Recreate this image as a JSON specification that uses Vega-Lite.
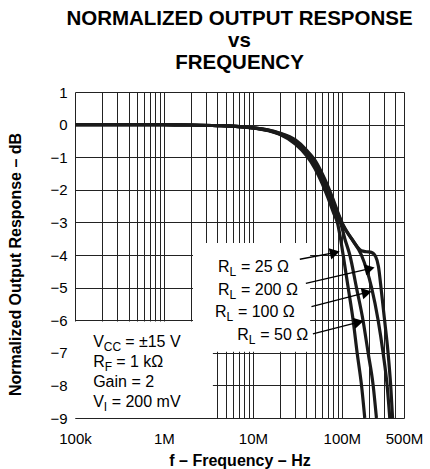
{
  "$schema": "https://vega.github.io/schema/vega-lite/v6.json",
  "width": 329,
  "height": 326,
  "autosize": {"type": "none"},
  "padding": {"left": 75, "top": 92, "right": 26, "bottom": 51},
  "background": "white",
  "config": {
    "font": "Liberation Sans",
    "view": {"stroke": null},
    "axis": {"labelFont": "Liberation Sans", "titleFont": "Liberation Sans", "labelColor": "black", "titleColor": "black"}
  },
  "title": {
    "text": ["NORMALIZED OUTPUT RESPONSE", "vs", "FREQUENCY"],
    "fontSize": 20.5,
    "fontWeight": "bold",
    "lineHeight": 22,
    "anchor": "middle",
    "offset": 12,
    "color": "black",
    "font": "Liberation Sans"
  },
  "datasets": {
    "curves": [
      {"rl": "25", "f": 100000, "db": 0}, {"rl": "25", "f": 300000, "db": 0}, {"rl": "25", "f": 1000000, "db": -0.005}, {"rl": "25", "f": 2000000, "db": -0.012}, {"rl": "25", "f": 4000000, "db": -0.03}, {"rl": "25", "f": 7000000, "db": -0.06}, {"rl": "25", "f": 10000000, "db": -0.1}, {"rl": "25", "f": 15000000, "db": -0.19}, {"rl": "25", "f": 20000000, "db": -0.3},
      {"rl": "25", "f": 30000000, "db": -0.6}, {"rl": "25", "f": 40000000, "db": -0.95}, {"rl": "25", "f": 50000000, "db": -1.35}, {"rl": "25", "f": 60000000, "db": -1.8}, {"rl": "25", "f": 70000000, "db": -2.25}, {"rl": "25", "f": 80000000, "db": -2.68}, {"rl": "25", "f": 90000000, "db": -3.05}, {"rl": "25", "f": 96000000, "db": -3.45}, {"rl": "25", "f": 103500000, "db": -4.0}, {"rl": "25", "f": 117800000, "db": -5.0}, {"rl": "25", "f": 134000000, "db": -6.0}, {"rl": "25", "f": 148600000, "db": -7.0}, {"rl": "25", "f": 166500000, "db": -8.0}, {"rl": "25", "f": 181000000, "db": -9.0},
      {"rl": "50", "f": 100000, "db": 0}, {"rl": "50", "f": 300000, "db": 0}, {"rl": "50", "f": 1000000, "db": -0.005}, {"rl": "50", "f": 2000000, "db": -0.012}, {"rl": "50", "f": 4000000, "db": -0.03}, {"rl": "50", "f": 7000000, "db": -0.06}, {"rl": "50", "f": 10000000, "db": -0.1}, {"rl": "50", "f": 15000000, "db": -0.18}, {"rl": "50", "f": 20000000, "db": -0.29},
      {"rl": "50", "f": 30000000, "db": -0.55}, {"rl": "50", "f": 40000000, "db": -0.88}, {"rl": "50", "f": 50000000, "db": -1.25}, {"rl": "50", "f": 60000000, "db": -1.65}, {"rl": "50", "f": 70000000, "db": -2.1}, {"rl": "50", "f": 80000000, "db": -2.5}, {"rl": "50", "f": 90000000, "db": -2.85}, {"rl": "50", "f": 99000000, "db": -3.1}, {"rl": "50", "f": 108000000, "db": -3.5}, {"rl": "50", "f": 123000000, "db": -4.0}, {"rl": "50", "f": 146000000, "db": -5.0}, {"rl": "50", "f": 173000000, "db": -6.0}, {"rl": "50", "f": 197500000, "db": -7.0}, {"rl": "50", "f": 225000000, "db": -8.0}, {"rl": "50", "f": 245000000, "db": -9.0},
      {"rl": "100", "f": 100000, "db": 0}, {"rl": "100", "f": 300000, "db": 0}, {"rl": "100", "f": 1000000, "db": -0.005}, {"rl": "100", "f": 2000000, "db": -0.012}, {"rl": "100", "f": 4000000, "db": -0.03}, {"rl": "100", "f": 7000000, "db": -0.06}, {"rl": "100", "f": 10000000, "db": -0.1}, {"rl": "100", "f": 15000000, "db": -0.17}, {"rl": "100", "f": 20000000, "db": -0.27},
      {"rl": "100", "f": 30000000, "db": -0.5}, {"rl": "100", "f": 40000000, "db": -0.82}, {"rl": "100", "f": 50000000, "db": -1.15}, {"rl": "100", "f": 60000000, "db": -1.55}, {"rl": "100", "f": 70000000, "db": -1.95}, {"rl": "100", "f": 80000000, "db": -2.38}, {"rl": "100", "f": 90000000, "db": -2.72}, {"rl": "100", "f": 103500000, "db": -3.1}, {"rl": "100", "f": 129000000, "db": -3.5}, {"rl": "100", "f": 166000000, "db": -4.0}, {"rl": "100", "f": 216000000, "db": -5.0}, {"rl": "100", "f": 256000000, "db": -6.0}, {"rl": "100", "f": 291000000, "db": -7.0}, {"rl": "100", "f": 323000000, "db": -8.0}, {"rl": "100", "f": 346000000, "db": -9.0},
      {"rl": "200", "f": 100000, "db": 0}, {"rl": "200", "f": 300000, "db": 0}, {"rl": "200", "f": 1000000, "db": -0.005}, {"rl": "200", "f": 2000000, "db": -0.012}, {"rl": "200", "f": 4000000, "db": -0.03}, {"rl": "200", "f": 7000000, "db": -0.06}, {"rl": "200", "f": 10000000, "db": -0.1}, {"rl": "200", "f": 15000000, "db": -0.17}, {"rl": "200", "f": 20000000, "db": -0.26},
      {"rl": "200", "f": 30000000, "db": -0.47}, {"rl": "200", "f": 40000000, "db": -0.78}, {"rl": "200", "f": 50000000, "db": -1.1}, {"rl": "200", "f": 60000000, "db": -1.5}, {"rl": "200", "f": 70000000, "db": -1.9}, {"rl": "200", "f": 80000000, "db": -2.3}, {"rl": "200", "f": 90000000, "db": -2.68}, {"rl": "200", "f": 103500000, "db": -3.08}, {"rl": "200", "f": 125000000, "db": -3.45}, {"rl": "200", "f": 146000000, "db": -3.72}, {"rl": "200", "f": 166000000, "db": -3.87}, {"rl": "200", "f": 190000000, "db": -3.9}, {"rl": "200", "f": 215000000, "db": -3.92}, {"rl": "200", "f": 240000000, "db": -4.05}, {"rl": "200", "f": 258000000, "db": -4.35}, {"rl": "200", "f": 279000000, "db": -5.13}, {"rl": "200", "f": 304000000, "db": -6.05}, {"rl": "200", "f": 331000000, "db": -7.0}, {"rl": "200", "f": 355000000, "db": -8.04}, {"rl": "200", "f": 372000000, "db": -9.0}
    ],
    "boxes": [
      {"f1": 2120000, "f2": 44000000, "db1": -3.63, "db2": -6.97},
      {"f1": 100000, "f2": 3550000, "db1": -6.04, "db2": -9}
    ],
    "arrows": [
      {"rl": "25", "f1": 33700000, "d1": -4.13, "f2": 83400000, "d2": -3.93},
      {"rl": "200", "f1": 39400000, "d1": -4.87, "f2": 206000000, "d2": -4.42},
      {"rl": "100", "f1": 45600000, "d1": -5.58, "f2": 191000000, "d2": -5.15},
      {"rl": "50", "f1": 47300000, "d1": -6.42, "f2": 155000000, "d2": -6.06}
    ],
    "labels": [
      {"kind": "R", "f": 4050000, "db": -4.51, "main": "R", "sub": "L", "rest": "= 25 Ω"},
      {"kind": "R", "f": 4050000, "db": -5.23, "main": "R", "sub": "L", "rest": "= 200 Ω"},
      {"kind": "R", "f": 3740000, "db": -5.89, "main": "R", "sub": "L", "rest": "= 100 Ω"},
      {"kind": "R", "f": 6670000, "db": -6.61, "main": "R", "sub": "L", "rest": "= 50 Ω"},
      {"kind": "VCC", "f": 160000, "db": -6.82, "main": "V", "sub": "CC", "rest": "= ±15 V"},
      {"kind": "R", "f": 160000, "db": -7.43, "main": "R", "sub": "F", "rest": "= 1 kΩ"},
      {"kind": "G", "f": 160000, "db": -8.05, "main": "Gain = 2", "sub": "", "rest": ""},
      {"kind": "VI", "f": 160000, "db": -8.67, "main": "V", "sub": "I", "rest": "= 200 mV"}
    ]
  },
  "layer": [
    {
      "data": {"name": "boxes"},
      "mark": {"type": "rect", "fill": "white", "strokeWidth": 0},
      "encoding": {
        "x": {
          "field": "f1", "type": "quantitative",
          "scale": {"type": "log", "domain": [100000, 500000000], "nice": false},
          "axis": {
            "values": [100000, 200000, 300000, 400000, 500000, 600000, 700000, 800000, 900000, 1000000, 2000000, 3000000, 4000000, 5000000, 6000000, 7000000, 8000000, 9000000, 10000000, 20000000, 30000000, 40000000, 50000000, 60000000, 70000000, 80000000, 90000000, 100000000, 200000000, 300000000, 400000000, 500000000],
            "labelExpr": "datum.value == 100000 ? '100k' : datum.value == 1000000 ? '1M' : datum.value == 10000000 ? '10M' : datum.value == 100000000 ? '100M' : datum.value == 500000000 ? '500M' : ''",
            "grid": true, "gridColor": "#222222", "gridWidth": 1, "gridOpacity": 1,
            "ticks": false, "domain": false,
            "labelFontSize": 15, "labelPadding": 13, "labelFlush": false, "labelOverlap": false, "labelBound": false,
            "title": "f – Frequency – Hz", "titleFontSize": 16, "titleFontWeight": "bold", "titlePadding": 6
          }
        },
        "x2": {"field": "f2"},
        "y": {
          "field": "db1", "type": "quantitative",
          "scale": {"domain": [-9, 1], "nice": false, "zero": false},
          "axis": {
            "values": [-9, -8, -7, -6, -5, -4, -3, -2, -1, 0, 1],
            "tickCount": 11,
            "grid": true, "gridColor": "#222222", "gridWidth": 1, "gridOpacity": 1,
            "ticks": false, "domain": false,
            "labelFontSize": 15, "labelPadding": 8, "labelOverlap": false, "labelBound": false,
            "title": "Normalized Output Response – dB", "titleFontSize": 16, "titleFontWeight": "bold", "titlePadding": 26,
            "titleY": 172
          }
        },
        "y2": {"field": "db2"}
      }
    },
    {
      "data": {"name": "curves"},
      "mark": {"type": "line", "strokeWidth": 3.2, "color": "#1a1a1a", "interpolate": "monotone", "clip": true},
      "encoding": {
        "x": {"field": "f", "type": "quantitative"},
        "y": {"field": "db", "type": "quantitative"},
        "detail": {"field": "rl", "type": "nominal"}
      }
    },
    {
      "data": {"name": "arrows"},
      "mark": {"type": "rule", "strokeWidth": 1.3, "color": "black"},
      "encoding": {
        "x": {"field": "f1", "type": "quantitative"},
        "x2": {"field": "f2"},
        "y": {"field": "d1", "type": "quantitative"},
        "y2": {"field": "d2"}
      }
    },
    {
      "data": {"name": "arrows"},
      "mark": {"type": "point", "shape": "triangle-right", "angle": -13, "size": 130, "filled": true, "color": "black", "opacity": 1},
      "encoding": {
        "x": {"field": "f2", "type": "quantitative"},
        "y": {"field": "d2", "type": "quantitative"}
      }
    },
    {
      "data": {"name": "labels"},
      "mark": {"type": "text", "align": "left", "baseline": "alphabetic", "fontSize": 16, "color": "black"},
      "encoding": {
        "x": {"field": "f", "type": "quantitative"},
        "y": {"field": "db", "type": "quantitative"},
        "text": {"field": "main"}
      }
    },
    {
      "data": {"name": "labels"},
      "transform": [{"filter": "datum.kind == 'R'"}],
      "layer": [
        {
          "mark": {"type": "text", "align": "left", "baseline": "alphabetic", "fontSize": 12, "dx": 11.6, "dy": 4, "color": "black"},
          "encoding": {"x": {"field": "f", "type": "quantitative"}, "y": {"field": "db", "type": "quantitative"}, "text": {"field": "sub"}}
        },
        {
          "mark": {"type": "text", "align": "left", "baseline": "alphabetic", "fontSize": 16, "dx": 23, "color": "black"},
          "encoding": {"x": {"field": "f", "type": "quantitative"}, "y": {"field": "db", "type": "quantitative"}, "text": {"field": "rest"}}
        }
      ]
    },
    {
      "data": {"name": "labels"},
      "transform": [{"filter": "datum.kind == 'VCC'"}],
      "layer": [
        {
          "mark": {"type": "text", "align": "left", "baseline": "alphabetic", "fontSize": 12, "dx": 10.7, "dy": 4, "color": "black"},
          "encoding": {"x": {"field": "f", "type": "quantitative"}, "y": {"field": "db", "type": "quantitative"}, "text": {"field": "sub"}}
        },
        {
          "mark": {"type": "text", "align": "left", "baseline": "alphabetic", "fontSize": 16, "dx": 32, "color": "black"},
          "encoding": {"x": {"field": "f", "type": "quantitative"}, "y": {"field": "db", "type": "quantitative"}, "text": {"field": "rest"}}
        }
      ]
    },
    {
      "data": {"name": "labels"},
      "transform": [{"filter": "datum.kind == 'VI'"}],
      "layer": [
        {
          "mark": {"type": "text", "align": "left", "baseline": "alphabetic", "fontSize": 12, "dx": 10.7, "dy": 4, "color": "black"},
          "encoding": {"x": {"field": "f", "type": "quantitative"}, "y": {"field": "db", "type": "quantitative"}, "text": {"field": "sub"}}
        },
        {
          "mark": {"type": "text", "align": "left", "baseline": "alphabetic", "fontSize": 16, "dx": 18.5, "color": "black"},
          "encoding": {"x": {"field": "f", "type": "quantitative"}, "y": {"field": "db", "type": "quantitative"}, "text": {"field": "rest"}}
        }
      ]
    },
    {
      "mark": {"type": "rect", "filled": false, "stroke": "black", "strokeWidth": 2},
      "encoding": {
        "x": {"datum": 100000, "type": "quantitative"},
        "x2": {"datum": 500000000},
        "y": {"datum": 1, "type": "quantitative"},
        "y2": {"datum": -9}
      }
    }
  ]
}
